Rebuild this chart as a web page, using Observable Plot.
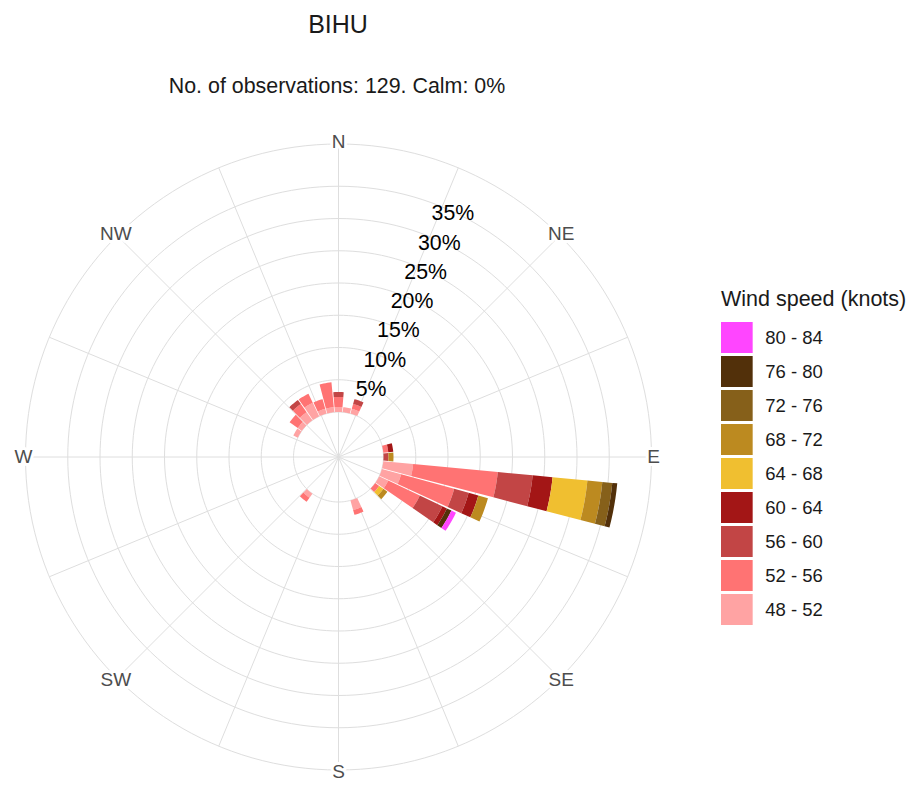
<!DOCTYPE html>
<html>
<head>
<meta charset="utf-8">
<script src="https://cdn.jsdelivr.net/npm/d3@7"></script>
<script src="https://cdn.jsdelivr.net/npm/@observablehq/plot@0.6"></script>
<style>
  body { margin: 0; background: #fff; font-family: "Liberation Sans", Arial, sans-serif; }
  #wrap { position: relative; width: 913px; height: 785px; overflow: hidden; }
  .txt { position: absolute; white-space: nowrap; color: #1a1a1a; }
  #title { left: 0; width: 676px; text-align: center; top: 12px; font-size: 25px; line-height: 25px; }
  #subtitle { left: 0; width: 674px; text-align: center; top: 76px; font-size: 21.4px; line-height: 20px; }
  #legendTitle { left: 721px; top: 289px; font-size: 21.5px; line-height: 20px; }
  #rose { position: absolute; left: 0; top: 128px; }
  #legend { position: absolute; left: 721px; top: 316px; }
</style>
</head>
<body>
<div id="wrap">
  <div id="title" class="txt">BIHU</div>
  <div id="subtitle" class="txt">No. of observations: 129. Calm: 0%</div>
  <div id="rose"></div>
  <div id="legendTitle" class="txt">Wind speed (knots)</div>
  <div id="legend"></div>
</div>
<script>
// ---------------- data ----------------
const directions = [0, 10, 20, 80, 90, 100, 110, 120, 130, 160, 220, 300, 310, 320, 330, 340, 350];
const speedBins = ["48 - 52", "52 - 56", "56 - 60", "60 - 64", "64 - 68", "68 - 72", "72 - 76", "76 - 80", "80 - 84"];
const binColors = ["#FFA3A3", "#FF7373", "#C24545", "#A31616", "#F0BF30", "#BC8A20", "#86601A", "#52300A", "#FF45FF"];
// counts of observations per direction (same order as directions)
const n48_52 = [1, 1, 1, 0, 0,  6,  4, 2, 0, 2, 1, 1, 1, 2, 3, 1, 1];
const n52_56 = [2, 0, 1, 1, 0, 17, 11, 7, 1, 1, 1, 0, 2, 2, 2, 2, 5];
const n56_60 = [1, 0, 1, 0, 1,  7,  3, 5, 0, 0, 0, 0, 0, 1, 0, 0, 0];
const n60_64 = [0, 0, 0, 1, 0,  4,  2, 1, 0, 0, 0, 0, 0, 0, 0, 0, 0];
const n64_68 = [0, 0, 0, 0, 0,  7,  0, 0, 1, 0, 0, 0, 0, 0, 0, 0, 0];
const n68_72 = [0, 0, 0, 0, 1,  3,  2, 0, 1, 0, 0, 0, 0, 0, 0, 0, 0];
const n72_76 = [0, 0, 0, 0, 0,  2,  0, 0, 0, 0, 0, 0, 0, 0, 0, 0, 0];
const n76_80 = [0, 0, 0, 0, 0,  1,  0, 1, 0, 0, 0, 0, 0, 0, 0, 0, 0];
const n80_84 = [0, 0, 0, 0, 0,  0,  0, 1, 0, 0, 0, 0, 0, 0, 0, 0, 0];
const nObservations = 129;
const radialTicks = [5, 10, 15, 20, 25, 30, 35];
const tickLabels = ["5%", "10%", "15%", "20%", "25%", "30%", "35%"];
const compassLabels = ["N", "NE", "E", "SE", "S", "SW", "W", "NW"];
const compassAngles = [0, 45, 90, 135, 180, 225, 270, 315];

// ---------------- geometry ----------------
const K = 6.45;             // px per percent
const OFF = 45 / K;         // hole in the middle (percent units)
const OUTER = 313 / K;      // outer grid circle
const LABEL_R = 315 / K;
const HW = 4.6;             // half width of a wedge, degrees
const rad = a => a * Math.PI / 180;
const W = 676, H = 657;

const countsByBin = [n48_52, n52_56, n56_60, n60_64, n64_68, n68_72, n72_76, n76_80, n80_84];

const segPts = [];
directions.forEach((dir, i) => {
  let cum = 0;
  speedBins.forEach((bin, j) => {
    const c = countsByBin[j][i];
    if (!c) return;
    const p0 = cum / nObservations * 100;
    cum += c;
    const p1 = cum / nObservations * 100;
    const id = dir + "|" + bin;
    const r0 = OFF + p0, r1 = OFF + p1;
    const steps = 6;
    for (let s = 0; s <= steps; s++) {
      const a = rad(dir - HW + 2 * HW * s / steps);
      segPts.push({id, bin, x: r0 * Math.sin(a), y: r0 * Math.cos(a)});
    }
    for (let s = steps; s >= 0; s--) {
      const a = rad(dir - HW + 2 * HW * s / steps);
      segPts.push({id, bin, x: r1 * Math.sin(a), y: r1 * Math.cos(a)});
    }
  });
});

const rings = [0, ...radialTicks].map(v => OFF + v).concat([OUTER]);
const ringPts = [];
rings.forEach((r, k) => {
  for (let a = 0; a <= 360; a += 2) ringPts.push({ring: k, x: r * Math.sin(rad(a)), y: r * Math.cos(rad(a))});
});
const spokes = d3.range(0, 360, 22.5).map(a => ({a}));
const tickData = radialTicks.map((v, i) => ({v, label: tickLabels[i]}));
const compassData = compassLabels.map((t, i) => ({t, a: compassAngles[i]}));

const rose = Plot.plot({
  width: W, height: H,
  margin: 0,
  style: {background: "transparent", overflow: "visible"},
  x: {domain: [-W / 2 / K, W / 2 / K], range: [0, W], axis: null},
  y: {domain: [-H / 2 / K, H / 2 / K], range: [H, 0], axis: null},
  color: {type: "ordinal", domain: speedBins, range: binColors},
  marks: [
    Plot.line(ringPts, {x: "x", y: "y", z: "ring", stroke: "#DEDEDE", strokeWidth: 1}),
    Plot.link(spokes, {
      x1: d => 0, y1: d => 0,
      x2: d => OUTER * Math.sin(rad(d.a)), y2: d => OUTER * Math.cos(rad(d.a)),
      stroke: "#DEDEDE", strokeWidth: 1
    }),
    Plot.line(segPts, {x: "x", y: "y", z: "id", fill: "bin", stroke: "none"}),
    Plot.text(tickData, {
      x: d => (OFF + d.v) * Math.sin(rad(25)), y: d => (OFF + d.v) * Math.cos(rad(25)),
      text: "label", fontSize: 21.3, fill: "#000", dy: 2,
      fontFamily: "Liberation Sans, Arial, sans-serif"
    }),
    Plot.text(compassData, {
      x: d => LABEL_R * Math.sin(rad(d.a)), y: d => LABEL_R * Math.cos(rad(d.a)),
      text: "t", fontSize: 19, fill: "#4D4D4D", stroke: "white", strokeWidth: 6,
      fontFamily: "Liberation Sans, Arial, sans-serif"
    })
  ]
});
document.getElementById("rose").appendChild(rose);

const legendRows = speedBins.slice().reverse().map(b => ({bin: b}));
const legend = Plot.plot({
  width: 190, height: 314,
  margin: 0,
  style: {background: "transparent", overflow: "visible"},
  x: {domain: [0, 6], range: [0, 190], axis: null},
  y: {type: "band", domain: speedBins.slice().reverse(), range: [0, 314], paddingInner: 0.09, paddingOuter: 0.045, axis: null},
  color: {type: "ordinal", domain: speedBins, range: binColors},
  marks: [
    Plot.barX(legendRows, {x1: d => 0, x2: d => 1, y: "bin", fill: "bin"}),
    Plot.text(legendRows, {x: d => 1, y: "bin", text: "bin", textAnchor: "start", dx: 12,
      fontSize: 18.5, fill: "#1a1a1a", fontFamily: "Liberation Sans, Arial, sans-serif"})
  ]
});
document.getElementById("legend").appendChild(legend);
</script>
</body>
</html>
